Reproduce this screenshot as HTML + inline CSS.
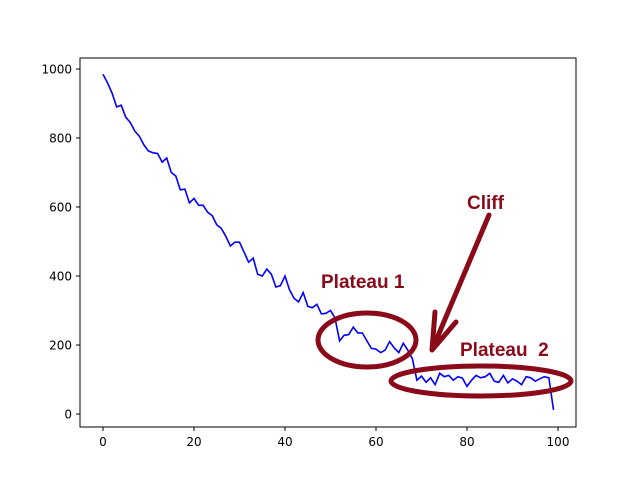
<!DOCTYPE html>
<html><head><meta charset="utf-8"><style>body{margin:0;background:#fff}svg{display:block}</style></head>
<body>
<svg id="chart" width="640" height="480" xmlns="http://www.w3.org/2000/svg" font-family="'DejaVu Sans', sans-serif">
<rect x="80" y="58" width="496" height="369" fill="#fff" stroke="#000" stroke-width="1"/>
<g id="ticks"></g>
<polyline id="line" fill="none" stroke="#0000ff" stroke-width="1.6"/>
<g fill="none" stroke="#8b0a1a" stroke-width="5">
<ellipse cx="367" cy="340" rx="49" ry="27"/>
<ellipse cx="481" cy="381" rx="90" ry="15"/>
<path d="M489,215 L432,350 M435,312 L432,350 M456,322 L432,350" stroke-linecap="round" stroke-linejoin="round"/>
</g>
<g font-family="'Liberation Sans', sans-serif" font-weight="bold" font-size="19" fill="#8b0a1a">
<text x="467" y="209">Cliff</text>
<text x="321" y="288">Plateau 1</text>
<text x="460" y="356" xml:space="preserve">Plateau  2</text>
</g>
</svg>
<script>
const values = [985,960,930,890,895,860,845,820,805,780,762,757,755,730,742,700,690,650,652,612,625,605,605,585,575,548,538,515,487,498,498,470,440,452,405,400,420,405,368,372,400,360,335,325,352,312,308,318,290,292,300,278,212,228,230,252,235,235,212,190,188,178,185,210,192,178,205,185,160,98,110,92,105,85,118,108,112,98,108,104,80,98,112,105,108,118,95,92,112,90,102,95,85,108,105,95,102,108,105,12];
const xTicks = [0,20,40,60,80,100];
const yTicks = [0,200,400,600,800,1000];
const xs = v => 103 + v * 4.55;
const ys = v => 414 - v * 0.345;
const NS = 'http://www.w3.org/2000/svg';
const line = document.getElementById('line');
line.setAttribute('points', values.map((v,i)=>xs(i).toFixed(1)+','+ys(v).toFixed(1)).join(' '));
const g = document.getElementById('ticks');
function mk(tag, attrs){const e=document.createElementNS(NS,tag);for(const k in attrs)e.setAttribute(k,attrs[k]);g.appendChild(e);return e;}
xTicks.forEach(t=>{
  const l=mk('line',{x1:xs(t),x2:xs(t),y1:427,y2:431,stroke:'#000'});
  
  
  const tx=mk('text',{x:xs(t),y:446,'text-anchor':'middle','font-size':'12'});
  tx.textContent=t;
  
  
});
yTicks.forEach(t=>{
  const l=mk('line',{x1:76,x2:80,y1:ys(t),y2:ys(t),stroke:'#000'});
  
  
  const tx=mk('text',{x:72,y:ys(t)+4.5,'text-anchor':'end','font-size':'12'});
  tx.textContent=t;
  
  
});
</script>
</body></html>
